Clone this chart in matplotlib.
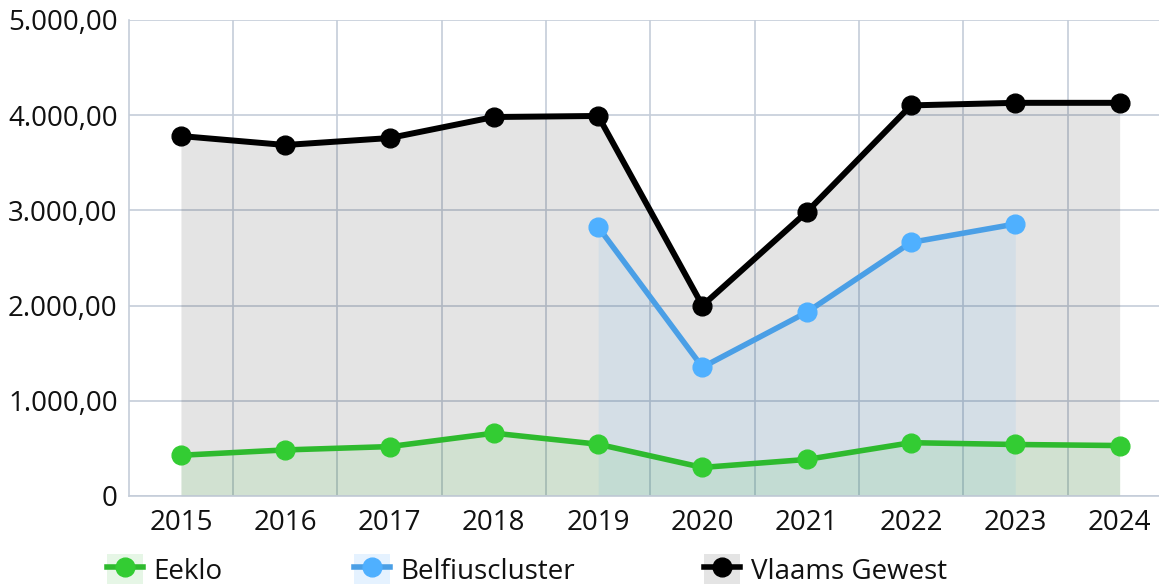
import matplotlib
matplotlib.use("Agg")
import matplotlib.pyplot as plt
from matplotlib.lines import Line2D
from matplotlib.patches import Patch
from matplotlib.legend_handler import HandlerTuple
from matplotlib.ticker import FuncFormatter, MultipleLocator

years = ["2015", "2016", "2017", "2018", "2019", "2020", "2021", "2022", "2023", "2024"]
eeklo = [428, 484, 519, 660, 544, 300, 384, 560, 541, 530]
belfius_years = ["2019", "2020", "2021", "2022", "2023"]
belfius = [2826, 1353, 1930, 2664, 2857]
vlaams = [3781, 3687, 3760, 3981, 3992, 2000, 2983, 4103, 4130, 4130]
series_names = ["Eeklo", "Belfiuscluster", "Vlaams Gewest"]

plt.rcParams['font.family'] = ['Open Sans', 'DejaVu Sans']

W, H = 1159, 584
fig = plt.figure(figsize=(W / 100, H / 100), dpi=100)
ax = fig.add_axes([128.8 / W, 88 / H, 1043 / W, 476 / H])

xi = list(range(len(years)))
bx = [years.index(y) for y in belfius_years]

grid_c = "#C5CDD9"
ax.set_xlim(-0.5, len(years) - 0.5)
ax.set_ylim(0, 5000)
ax.yaxis.set_major_locator(MultipleLocator(1000))
ax.set_xticks(xi)
ax.set_xticklabels(years)
ax.set_xticks([i + 0.5 for i in xi[:-1]], minor=True)
ax.grid(True, axis='y', which='major', color=grid_c, lw=1.2, zorder=0)
ax.grid(True, axis='x', which='minor', color=grid_c, lw=1.2, zorder=0)
ax.set_axisbelow(True)


def fmt(v, pos):
    if v == 0:
        return "0"
    s = f"{v:,.2f}"
    return s.replace(",", "X").replace(".", ",").replace("X", ".")


ax.yaxis.set_major_formatter(FuncFormatter(fmt))
ax.tick_params(axis='both', which='both', length=0, labelsize=20, colors='#111111')
ax.tick_params(axis='y', pad=8)
ax.tick_params(axis='x', pad=9)
for s in ['top', 'right']:
    ax.spines[s].set_visible(False)
for s in ['left', 'bottom']:
    ax.spines[s].set_color(grid_c)
    ax.spines[s].set_linewidth(1.2)

c_green_line, c_green_mk = "#2EBA2E", "#33CC33"
c_blue_line, c_blue_mk = "#4A9FE6", "#4FB0FF"
c_black = "#000000"

ax.fill_between(xi, vlaams, 0, color="#000000", alpha=0.105, lw=0, zorder=1)
ax.fill_between(bx, belfius, 0, color=c_blue_mk, alpha=0.10, lw=0, zorder=1.1)
ax.fill_between(xi, eeklo, 0, color=c_green_mk, alpha=0.10, lw=0, zorder=1.2)

ax.plot(xi, eeklo, color=c_green_line, lw=4.0, marker='o', ms=13.5,
        mfc=c_green_mk, mec=c_green_mk, zorder=3, clip_on=False)
ax.plot(bx, belfius, color=c_blue_line, lw=4.0, marker='o', ms=13.5,
        mfc=c_blue_mk, mec=c_blue_mk, zorder=3.1, clip_on=False)
ax.plot(xi, vlaams, color=c_black, lw=4.3, marker='o', ms=13.5,
        mfc=c_black, mec=c_black, zorder=3.2, clip_on=False)

leg_specs = [
    (series_names[0], "#E6F6E6", c_green_line, c_green_mk, 107),
    (series_names[1], "#E5F2FF", c_blue_line, c_blue_mk, 354),
    (series_names[2], "#E4E4E4", c_black, c_black, 704),
]
for name, bg, lc, mc, x0 in leg_specs:
    p = Patch(facecolor=bg, edgecolor='none')
    l = Line2D([0], [0], color=lc, lw=4, marker='o', ms=13.5, mfc=mc, mec=mc)
    leg = fig.legend(handles=[(p, l)], labels=[name],
                     handler_map={tuple: HandlerTuple(ndivide=1, pad=0)},
                     loc='center left', bbox_to_anchor=(x0 / W, 1 - 570 / H),
                     frameon=False, borderpad=0, borderaxespad=0,
                     handlelength=1.3, handleheight=1.3, handletextpad=0.38,
                     numpoints=1, fontsize=20)
    for t in leg.get_texts():
        t.set_color('#111111')

fig.savefig("out.png", dpi=100)
